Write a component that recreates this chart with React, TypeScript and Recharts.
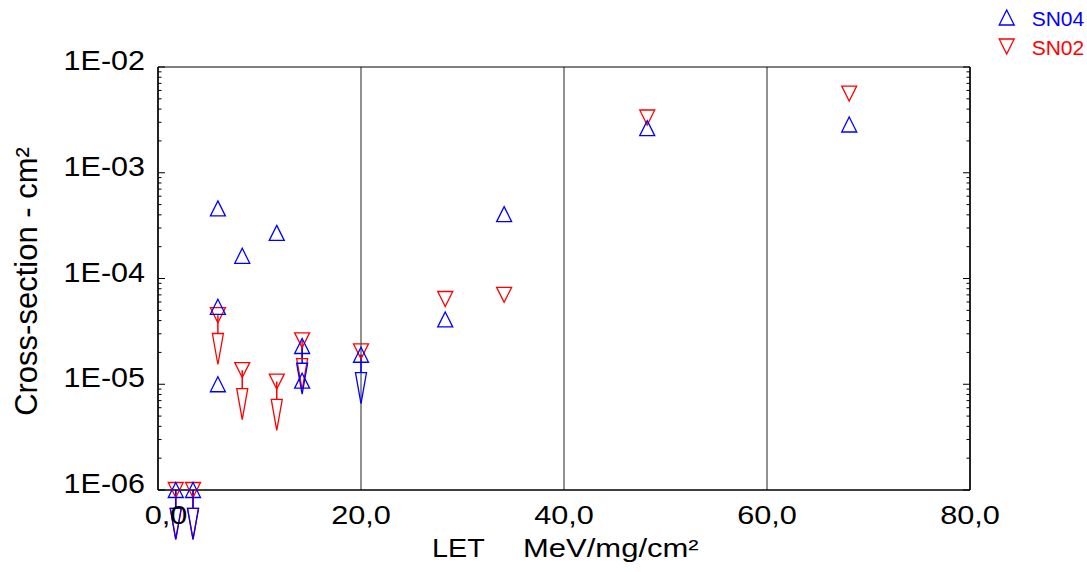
import React from "react";
import {
  ScatterChart, Scatter, XAxis, YAxis, CartesianGrid, ErrorBar, ReferenceArea,
} from "recharts";

const FONT = "'Liberation Sans', Arial, sans-serif";
const BLUE = "#0000ff";
const RED = "#ff0000";

const X_TICKS = [0, 20, 40, 60, 80];
const Y_TICKS = [1e-6, 1e-5, 1e-4, 1e-3, 1e-2];
const Y_MINOR_STEPS = [2, 3, 4, 5, 6, 7, 8, 9];

// SN04 - blue up triangles. LOW = where the downward arrow starts (null = no arrow)
const SN04_LET = [1.75, 3.45, 5.9, 5.9, 5.9, 8.3, 11.7, 14.2, 14.2, 20.0, 28.3, 34.1, 48.2, 68.1];
const SN04_XS = [1.0e-6, 1.0e-6, 4.6e-4, 5.4e-5, 1.0e-5, 1.64e-4, 2.7e-4, 2.3e-5, 1.08e-5, 1.9e-5, 4.1e-5, 4.06e-4, 2.64e-3, 2.86e-3];
const SN04_LOW = [6.7e-7, 6.7e-7, null, null, null, null, null, 1.58e-5, null, 1.29e-5, null, null, null, null];

// SN02 - red down triangles
const SN02_LET = [1.75, 3.45, 5.9, 8.3, 11.7, 14.2, 20.0, 28.3, 34.1, 48.2, 68.1];
const SN02_XS = [1.0e-6, 1.0e-6, 4.5e-5, 1.36e-5, 1.06e-5, 2.6e-5, 2.05e-5, 6.4e-5, 7.0e-5, 3.33e-3, 5.6e-3];
const SN02_LOW = [6.7e-7, 6.7e-7, 3.02e-5, 9.1e-6, 7.18e-6, 1.75e-5, null, null, null, null, null];

const Y_ALL = [
  ...Y_TICKS,
  ...Y_TICKS.slice(0, -1).flatMap(d => Y_MINOR_STEPS.map(s => s * d)),
].sort((a, b) => a - b);

function points(xs: number[], ys: number[], low: (number | null)[]) {
  return xs.map((x, i) => ({
    x,
    y: ys[i],
    err: low[i] != null ? [ys[i] - (low[i] as number), 0] : [0, 0],
  }));
}
function arrows(xs: number[], low: (number | null)[]) {
  return xs.map((x, i) => ({ x, y: low[i] })).filter(p => p.y != null);
}

const sn04 = points(SN04_LET, SN04_XS, SN04_LOW);
const sn02 = points(SN02_LET, SN02_XS, SN02_LOW);
const sn04Arrows = arrows(SN04_LET, SN04_LOW);
const sn02Arrows = arrows(SN02_LET, SN02_LOW);

const fmtY = (v: number) => "1E-" + String(Math.round(-Math.log10(v))).padStart(2, "0");
const fmtX = (v: number) => v.toFixed(1).replace(".", ",");

// eslint-disable-next-line @typescript-eslint/no-explicit-any
const upMark = (color: string) => (p: any) => (
  <path d={`M${p.cx},${p.cy - 7.5}L${p.cx + 7.5},${p.cy + 7.5}L${p.cx - 7.5},${p.cy + 7.5}Z`}
    fill="none" stroke={color} strokeWidth={1.3} />
);
// eslint-disable-next-line @typescript-eslint/no-explicit-any
const downMark = (color: string) => (p: any) => (
  <path d={`M${p.cx - 7.5},${p.cy - 7.5}L${p.cx + 7.5},${p.cy - 7.5}L${p.cx},${p.cy + 7.5}Z`}
    fill="none" stroke={color} strokeWidth={1.3} />
);
// long narrow arrow head hanging below the error line
// eslint-disable-next-line @typescript-eslint/no-explicit-any
const arrowMark = (color: string) => (p: any) => (
  <path d={`M${p.cx - 5.5},${p.cy}L${p.cx + 5.5},${p.cy}L${p.cx},${p.cy + 31}Z`}
    fill="none" stroke={color} strokeWidth={1.3} />
);

// eslint-disable-next-line @typescript-eslint/no-explicit-any
const YTick = ({ x, y, payload, side }: any) => {
  const v = payload.value;
  const major = Y_TICKS.some(t => Math.abs(t - v) / t < 1e-9);
  const len = major ? 7 : 3.5;
  const dir = side === "left" ? 1 : -1;
  return (
    <g>
      <line x1={x} x2={x + dir * len} y1={y} y2={y} stroke="#000" strokeWidth={1} />
      {major && side === "left" && (
        <g transform={`translate(${x - 13},${y + 3})`}>
          <text transform="scale(1.13,1)" textAnchor="end" fontSize={27} fontFamily={FONT} fill="#000">
            {fmtY(v)}
          </text>
        </g>
      )}
    </g>
  );
};

// eslint-disable-next-line @typescript-eslint/no-explicit-any
const XTick = ({ x, y, payload }: any) => {
  const shift = payload.value === 0 ? 8 : 0;
  return (
    <g transform={`translate(${x + shift},${y + 33.5})`}>
      <text transform="scale(1.18,1)" textAnchor="middle" fontSize={26} fontFamily={FONT} fill="#000">
        {fmtX(payload.value)}
      </text>
    </g>
  );
};

// eslint-disable-next-line @typescript-eslint/no-explicit-any
const XTitle = ({ viewBox }: any) => {
  const { x, y } = viewBox;
  return (
    <g fontFamily={FONT} fontSize={25} fill="#000">
      <g transform={`translate(${x + 274},${y + 67})`}>
        <text transform="scale(1.15,1)">LET</text>
      </g>
      <g transform={`translate(${x + 365},${y + 67})`}>
        <text transform="scale(1.24,1)">MeV/mg/cm²</text>
      </g>
    </g>
  );
};

// eslint-disable-next-line @typescript-eslint/no-explicit-any
const YTitle = ({ viewBox }: any) => {
  const { x, y, height } = viewBox;
  return (
    <text transform={`translate(${x + 37},${y + height / 2 + 3}) rotate(-90)`}
      textAnchor="middle" fontFamily={FONT} fontSize={31} fill="#000">
      Cross-section - cm²
    </text>
  );
};

export default function App() {
  return (
    <div style={{ position: "relative", width: 1087, height: 572, background: "#fff" }}>
      <style>{`body{margin:0} .recharts-wrapper g[clip-path]{clip-path:none}`}</style>
      <ScatterChart width={1087} height={572} margin={{ top: 67, right: 116, bottom: 0, left: 0 }}>
        <CartesianGrid horizontal={false} stroke="#222" strokeWidth={1} />
        <XAxis
          dataKey="x" type="number" domain={[0, 80]} ticks={X_TICKS} interval={0}
          tickLine={false} tickSize={0} tickMargin={0} height={82}
          axisLine={{ stroke: "#000" }} tick={<XTick />}
          label={<XTitle />}
        />
        <YAxis
          yAxisId="l" dataKey="y" scale="log" domain={[1e-6, 1e-2]} allowDataOverflow
          ticks={Y_ALL} interval={0} width={158}
          tickLine={false} tickSize={0} tickMargin={0}
          axisLine={{ stroke: "#000" }} tick={<YTick side="left" />}
          label={<YTitle />}
        />
        <YAxis
          yAxisId="r" orientation="right" dataKey="y" scale="log" domain={[1e-6, 1e-2]} allowDataOverflow
          ticks={Y_ALL} interval={0} width={1}
          tickLine={false} tickSize={0} tickMargin={0}
          axisLine={{ stroke: "#000" }} tick={<YTick side="right" />}
        />
        <ReferenceArea yAxisId="l" x1={0} x2={80} y1={1e-6} y2={1e-2} fill="none" stroke="#000" strokeWidth={1} />

        {/* SN02 */}
        <Scatter yAxisId="l" name="SN02" data={sn02} shape={downMark(RED)} isAnimationActive={false}>
          <ErrorBar dataKey="err" direction="y" width={0} stroke={RED} strokeWidth={1.5} isAnimationActive={false} />
        </Scatter>
        <Scatter yAxisId="l" data={sn02Arrows} shape={arrowMark(RED)} isAnimationActive={false} />

        {/* SN04 */}
        <Scatter yAxisId="l" name="SN04" data={sn04} shape={upMark(BLUE)} isAnimationActive={false}>
          <ErrorBar dataKey="err" direction="y" width={0} stroke={BLUE} strokeWidth={1.5} isAnimationActive={false} />
        </Scatter>
        <Scatter yAxisId="l" data={sn04Arrows} shape={arrowMark(BLUE)} isAnimationActive={false} />
      </ScatterChart>

      {/* legend */}
      <svg width={97} height={60} style={{ position: "absolute", left: 990, top: 0 }}>
        <path d="M16.7,10L24.2,25L9.2,25Z" fill="none" stroke={BLUE} strokeWidth={1.3} />
        <text x={41.7} y={26} fontFamily={FONT} fontSize={21} fill={BLUE}>SN04</text>
        <path d="M9.2,39L24.2,39L16.7,54Z" fill="none" stroke={RED} strokeWidth={1.3} />
        <text x={41.7} y={55} fontFamily={FONT} fontSize={21} fill={RED}>SN02</text>
      </svg>
    </div>
  );
}
